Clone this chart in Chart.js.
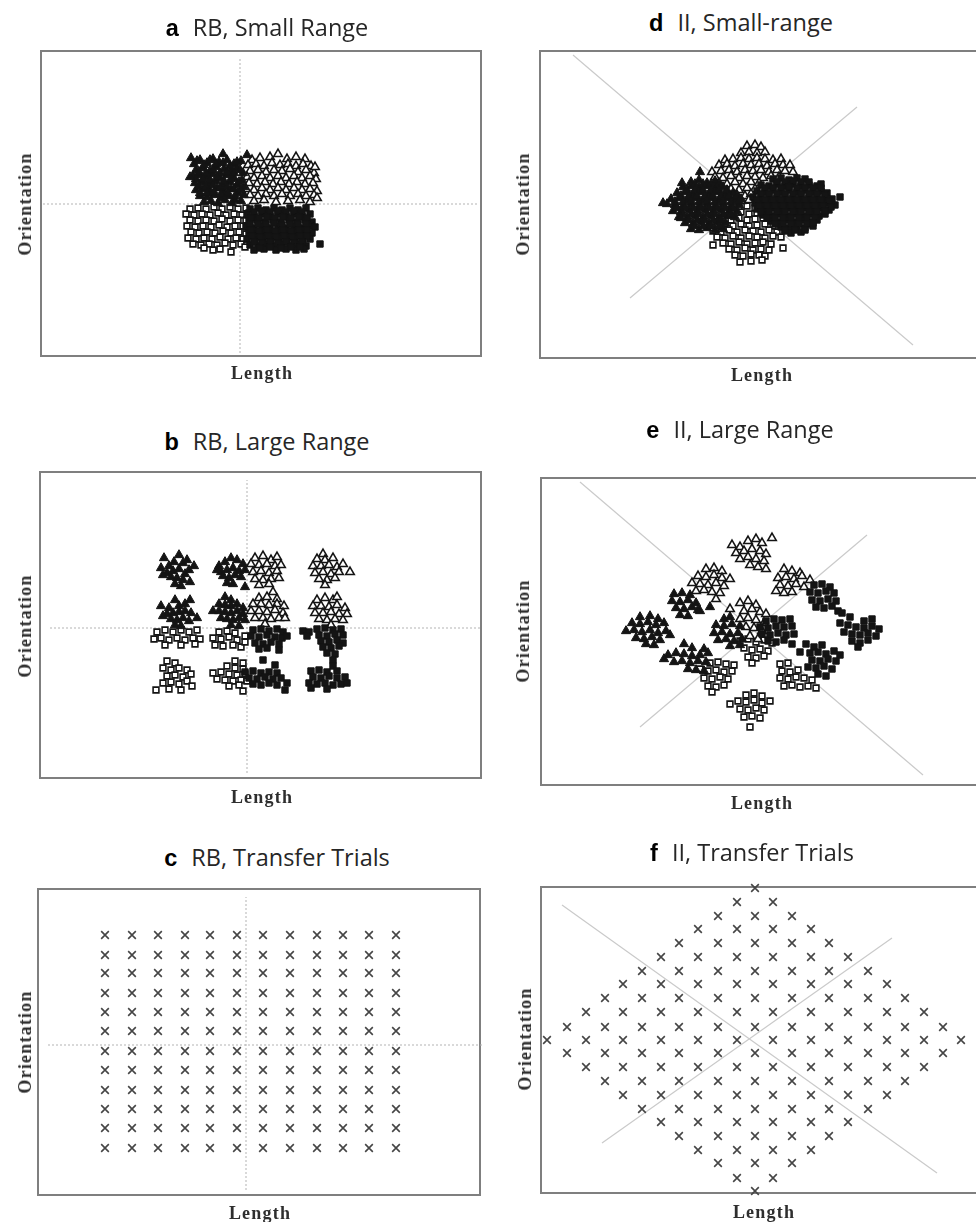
<!DOCTYPE html>
<html>
<head>
<meta charset="utf-8">
<script src="https://cdn.jsdelivr.net/npm/chart.js@4.4.1/dist/chart.umd.min.js"></script>
<style>
  html, body { margin: 0; padding: 0; background: #fff; }
  #page { position: relative; width: 976px; height: 1222px; overflow: hidden; background: #fff; }
  #page canvas { position: absolute; }
  .ttl { position: absolute; white-space: nowrap; transform: translate(-50%, -50%);
         font-family: "Open Sans", sans-serif; font-size: 23.5px; line-height: 1; color: #262626; }
  .ttl b { font-family: "Liberation Sans", Arial, sans-serif; font-weight: bold; color: #000; margin-right: 14px; }
  .ax { position: absolute; white-space: nowrap; transform: translate(-50%, -50%);
        font-family: "Liberation Serif", "Times New Roman", serif; font-weight: bold;
        font-size: 18px; line-height: 1; letter-spacing: 1.2px; color: #2e2e2e; }
  .ax.v { transform: translate(-50%, -50%) rotate(-90deg); }
</style>
</head>
<body>
<div id="page"></div>
<script>
// ---- Stimulus values (Length, Orientation), centred on the category boundary ----

// a: RB, small range
const rbSmallFilledTri = [
  [-46,40],[-40,44],[-33,41],[-27,45],[-21,42],[-13,44],[-6,40],[1,43],
  [-44,34],[-37,36],[-30,33],[-24,37],[-16,35],[-9,33],[-3,36],[3,31],
  [-47,28],[-41,29],[-34,27],[-27,30],[-20,26],[-13,29],[-6,26],[2,24],
  [-45,21],[-38,22],[-31,20],[-24,23],[-17,19],[-10,22],[-3,19],[4,17],
  [-44,14],[-37,15],[-30,13],[-23,16],[-16,12],[-9,15],[-2,11],[4,9],
  [-40,8],[-33,7],[-26,9],[-19,6],[-12,8],[-5,4],[1,3],[-36,2],[-22,1],[-8,1],
  [-43,43],[-36,39],[-30,44],[-24,40],[-17,41],[-10,38],[-3,42],
  [-41,32],[-34,31],[-27,34],[-20,31],[-13,32],[-6,31],[0,34],
  [-44,25],[-37,25],[-30,24],[-23,27],[-16,23],[-9,25],[-1,22],
  [-41,18],[-34,17],[-27,19],[-20,16],[-13,17],[-6,15],[1,14],
  [-40,11],[-33,11],[-26,12],[-19,10],[-12,11],[-5,8],[-29,3],[-15,4],
  [-49,46],[-17,50],[7,49],[-50,27]
];
const rbSmallOpenTri = [
  [12,44],[20,46],[30,47],[38,50],[47,45],[56,47],[65,45],
  [8,39],[16,40],[24,38],[32,41],[40,39],[48,40],[56,38],[63,40],[71,38],
  [10,33],[18,34],[26,32],[34,34],[42,33],[50,35],[58,32],[66,34],[74,31],
  [7,27],[14,26],[22,28],[30,26],[38,28],[46,26],[54,28],[62,26],[70,28],[76,25],
  [9,21],[17,20],[25,22],[33,20],[41,22],[49,20],[57,22],[65,20],[73,21],
  [6,15],[14,14],[22,16],[30,14],[38,16],[46,14],[54,16],[62,14],[70,15],[77,13],
  [10,9],[18,8],[26,10],[34,8],[42,10],[50,8],[58,10],[66,8],[74,9],
  [14,3],[24,4],[36,2],[48,3],[60,4],[70,2],[77,6],[75,37]
];
const rbSmallOpenSq = [
  [-50,-5],[-42,-4],[-34,-5],[-26,-3],[-18,-5],[-10,-3],[-2,-5],[6,-4],
  [-54,-10],[-46,-11],[-38,-10],[-30,-11],[-22,-9],[-14,-11],[-6,-10],[2,-11],[9,-9],
  [-50,-16],[-42,-17],[-34,-16],[-26,-17],[-18,-15],[-10,-17],[-2,-16],[6,-16],
  [-53,-22],[-45,-23],[-37,-22],[-29,-23],[-21,-21],[-13,-23],[-5,-22],[3,-22],
  [-49,-28],[-41,-29],[-33,-28],[-25,-29],[-17,-27],[-9,-29],[-1,-28],[6,-30],
  [-52,-34],[-44,-35],[-36,-34],[-28,-35],[-20,-33],[-12,-35],[-4,-34],[3,-35],
  [-47,-40],[-39,-41],[-31,-40],[-23,-41],[-15,-39],[-7,-41],[1,-40],
  [-36,-44],[-20,-45],[-9,-48],[5,-43],[-27,-46]
];
const rbSmallFilledSq = [
  [10,-5],[18,-4],[26,-6],[34,-4],[42,-6],[50,-4],[58,-6],[66,-4],
  [7,-11],[14,-12],[22,-10],[30,-12],[38,-10],[46,-12],[54,-10],[62,-12],[70,-10],
  [9,-17],[17,-16],[25,-18],[33,-16],[41,-18],[49,-16],[57,-18],[65,-16],[72,-18],
  [6,-23],[14,-24],[22,-22],[30,-24],[38,-22],[46,-24],[54,-22],[62,-24],[70,-22],[75,-23],
  [9,-29],[17,-30],[25,-28],[33,-30],[41,-28],[49,-30],[57,-28],[65,-30],[72,-29],
  [7,-35],[15,-36],[23,-34],[31,-36],[39,-34],[47,-36],[55,-34],[63,-36],[70,-35],
  [10,-41],[18,-42],[26,-40],[34,-42],[42,-40],[50,-42],[58,-40],[66,-42],[80,-40],
  [14,-46],[24,-45],[36,-46],[46,-45],[56,-46],[64,-45],
  [14,-8],[22,-7],[30,-8],[38,-7],[46,-8],[54,-7],[62,-8],
  [11,-14],[19,-14],[27,-13],[35,-14],[43,-13],[51,-14],[59,-13],[67,-14],
  [10,-20],[18,-20],[26,-20],[34,-19],[42,-21],[50,-20],[58,-20],[66,-20],
  [11,-26],[19,-27],[27,-26],[35,-27],[43,-26],[51,-27],[59,-26],[67,-26],
  [12,-32],[20,-33],[28,-32],[36,-33],[44,-32],[52,-33],[60,-32],[67,-32],
  [14,-38],[22,-39],[30,-38],[38,-39],[46,-38],[54,-39],[62,-38],
  [20,-44],[30,-43],[41,-44],[51,-43],[60,-43]
];

// b: RB, large range
const rbLargeFilledTri = [
  [-83,70],[-68,73],[-53,62],[-86,60],[-78,62],[-73,66],[-64,65],[-58,58],[-80,55],[-74,57],
  [-68,59],[-62,54],[-76,51],[-70,50],[-64,48],[-57,46],[-72,44],[-66,42],[-84,53],[-60,68],
  [-28,62],[-22,66],[-16,70],[-10,68],[-4,64],[-26,56],[-20,58],[-14,60],[-8,57],[-2,58],
  [-24,52],[-18,50],[-12,53],[-6,51],[-20,45],[-14,44],[-2,41],[-30,58],
  [-86,22],[-78,20],[-72,28],[-68,22],[-62,24],[-57,28],[-80,14],[-74,15],[-68,16],[-62,17],
  [-56,15],[-50,10],[-76,9],[-70,8],[-64,10],[-58,7],[-72,3],[-66,2],[-84,12],
  [-22,31],[-16,28],[-28,24],[-22,23],[-16,22],[-10,24],[-4,20],[-34,17],[-28,17],[-22,16],
  [-16,15],[-10,17],[-4,14],[-26,10],[-20,9],[-14,8],[-8,10],[-2,8],[-16,3],[-8,2]
];
const rbLargeOpenTri = [
  [8,70],[16,72],[24,68],[30,71],[4,64],[12,63],[20,64],[28,62],[34,63],[6,56],
  [14,57],[22,55],[30,57],[8,49],[16,48],[24,49],[32,50],[12,43],[22,44],
  [76,74],[70,69],[78,68],[86,70],[66,62],[74,62],[82,63],[90,61],[96,64],[68,55],
  [76,56],[84,54],[92,56],[72,49],[80,48],[88,50],[103,56],[78,43],
  [26,36],[12,30],[20,31],[30,29],[6,24],[14,24],[22,23],[30,24],[37,22],[4,17],
  [12,17],[20,16],[28,18],[36,15],[8,10],[16,10],[24,9],[32,10],[18,4],[38,10],
  [70,28],[78,30],[86,28],[90,31],[66,22],[74,22],[82,21],[90,23],[98,20],[68,15],
  [76,15],[84,16],[92,14],[100,14],[72,9],[80,8],[88,9],[96,8],[84,3]
];
const rbLargeOpenSq = [
  [-90,-4],[-82,-2],[-74,-4],[-66,-2],[-58,-4],[-50,-2],[-93,-11],[-86,-10],[-78,-12],[-70,-10],
  [-62,-12],[-54,-10],[-47,-11],[-82,-17],[-66,-17],[-52,-16],
  [-28,-4],[-20,-3],[-12,-5],[-34,-10],[-26,-11],[-18,-9],[-10,-12],[-2,-8],[-32,-17],[-24,-18],
  [-14,-17],[-6,-19],[-2,-14],
  [-80,-33],[-72,-35],[-84,-40],[-76,-42],[-68,-40],[-60,-42],[-80,-48],[-72,-47],[-64,-49],[-56,-46],
  [-84,-55],[-76,-54],[-68,-56],[-60,-53],[-55,-58],[-78,-61],[-66,-62],[-91,-62],
  [-12,-33],[-4,-35],[-20,-38],[-12,-40],[-4,-41],[-34,-45],[-26,-44],[-18,-46],[-10,-47],[-2,-46],
  [-30,-51],[-22,-52],[-14,-53],[-6,-52],[-18,-58],[-8,-57],[-4,-63],[0,-53]
];
const rbLargeFilledSq = [
  [6,-2],[14,-1],[22,-3],[30,-1],[36,-4],[4,-8],[12,-9],[20,-7],[28,-9],[35,-10],
  [40,-8],[8,-15],[16,-16],[24,-14],[32,-16],[12,-21],[20,-20],[32,-22],
  [56,-3],[62,-4],[60,-8],[70,-1],[78,0],[86,-2],[94,-1],[72,-7],[80,-8],[88,-6],
  [96,-7],[74,-13],[82,-14],[90,-12],[96,-15],[76,-19],[84,-20],[92,-18],[80,-25],[88,-26],
  [16,-32],[28,-37],[-2,-44],[6,-43],[14,-45],[22,-44],[30,-45],[2,-50],[10,-51],[18,-49],
  [26,-51],[34,-50],[40,-55],[6,-56],[14,-57],[22,-55],[30,-57],[38,-62],
  [86,-32],[86,-38],[64,-43],[72,-42],[80,-44],[90,-43],[66,-49],[74,-50],[82,-48],[90,-50],
  [98,-49],[62,-55],[70,-56],[78,-55],[86,-57],[94,-56],[100,-55],[64,-60],[80,-61]
];

// c: RB transfer grid (12 lengths x 12 orientations)
const transferRBLength = [-141, -114, -88, -61, -36, -9, 17, 44, 71, 97, 123, 150];
const transferRBOrient = [110, 90, 72, 52, 33, 14, -6, -25, -45, -64, -83, -103];

// d: II, small range
const iiSmallFilledTri = [
  [-52,19],[-44,21],[-36,18],[-28,20],
  [-60,14],[-52,15],[-44,13],[-36,15],[-28,13],[-20,14],
  [-66,8],[-58,9],[-50,7],[-42,9],[-34,7],[-26,9],[-18,7],[-10,8],
  [-72,2],[-64,3],[-56,1],[-48,3],[-40,1],[-32,3],[-24,1],[-16,3],[-8,1],[-2,2],
  [-76,-3],[-68,-4],[-60,-5],[-52,-3],[-44,-5],[-36,-3],[-28,-5],[-20,-3],[-12,-5],[-4,-4],
  [-70,-10],[-62,-11],[-54,-9],[-46,-11],[-38,-9],[-30,-11],[-22,-9],[-14,-11],[-6,-10],
  [-64,-16],[-56,-17],[-48,-15],[-40,-17],[-32,-15],[-24,-17],[-16,-15],[-8,-16],
  [-58,-22],[-50,-23],[-42,-21],[-34,-23],[-26,-21],[-18,-22],
  [-52,-28],[-44,-29],[-36,-27],[-28,-29],[-20,-28],
  [-48,17],[-40,17],[-32,17],[-24,17],
  [-56,11],[-48,11],[-40,11],[-32,11],[-24,11],[-16,11],
  [-62,5],[-54,5],[-46,5],[-38,5],[-30,5],[-22,5],[-14,5],[-6,5],
  [-68,-1],[-60,-1],[-52,0],[-44,-1],[-36,0],[-28,-1],[-20,0],[-12,-1],[-4,0],
  [-66,-7],[-58,-7],[-50,-7],[-42,-7],[-34,-7],[-26,-7],[-18,-7],[-10,-7],
  [-60,-13],[-52,-13],[-44,-13],[-36,-13],[-28,-13],[-20,-13],[-12,-13],
  [-54,-19],[-46,-19],[-38,-19],[-30,-19],[-22,-19],
  [-48,-25],[-40,-25],[-32,-25],[-24,-25],
  [-80,-2],[-61,18],[-43,29],[-62,-17]
];
const iiSmallOpenTri = [
  [4,55],[12,56],[18,54],
  [-2,48],[6,49],[14,48],[22,49],
  [-18,41],[-10,42],[-2,43],[6,42],[14,43],[22,42],[30,41],[38,42],
  [-24,36],[-16,37],[-8,35],[0,37],[8,36],[16,37],[24,35],[32,37],[40,36],[47,36],
  [-31,29],[-22,30],[-14,31],[-6,29],[2,31],[10,30],[18,31],[26,29],[34,31],[42,30],[50,29],
  [-28,24],[-20,23],[-12,25],[-4,23],[4,25],[12,24],[20,23],[28,25],[36,24],
  [-24,18],[-16,17],[-8,19],[0,17],[8,19],[16,18],
  [-12,12],[-4,11],[4,13],[12,12],
  [-6,6],[2,5],[8,7],
  [-2,0],[6,1]
];
const iiSmallOpenSq = [
  [-4,-6],[4,-5],[12,-7],
  [-10,-12],[-2,-11],[6,-13],[14,-12],
  [-20,-18],[-12,-19],[-4,-17],[4,-19],[12,-18],[20,-17],[28,-19],
  [-26,-24],[-18,-23],[-10,-25],[-2,-23],[6,-25],[14,-24],[22,-23],[30,-25],[38,-24],
  [-30,-30],[-22,-31],[-14,-29],[-6,-31],[2,-29],[10,-30],[18,-31],[26,-29],[34,-31],[42,-30],
  [-26,-36],[-18,-37],[-10,-35],[-2,-37],[6,-35],[14,-36],[22,-37],[30,-35],[38,-36],
  [-30,-44],[-20,-42],[-12,-43],[-4,-41],[4,-43],[12,-42],[20,-41],[28,-43],[40,-47],
  [-14,-48],[-6,-49],[2,-47],[10,-49],[18,-48],[26,-49],
  [-8,-54],[0,-55],[8,-53],[16,-54],[22,-55],
  [-3,-61],[8,-60],[19,-59]
];
const iiSmallFilledSq = [
  [30,22],[38,23],[46,21],[54,23],[62,22],[78,17],
  [18,16],[26,15],[34,17],[42,15],[50,17],[58,15],[66,16],[74,15],
  [14,10],[22,9],[30,11],[38,9],[46,11],[54,9],[62,11],[70,9],[78,10],[84,8],
  [10,4],[18,3],[26,5],[34,3],[42,5],[50,3],[58,5],[66,3],[74,5],[82,3],[89,2],
  [12,-2],[20,-3],[28,-1],[36,-3],[44,-1],[52,-3],[60,-1],[68,-3],[76,-1],[84,-2],[92,-4],
  [14,-8],[22,-9],[30,-7],[38,-9],[46,-7],[54,-9],[62,-7],[70,-9],[78,-7],[86,-9],
  [20,-14],[28,-15],[36,-13],[44,-15],[52,-13],[60,-15],[68,-13],[76,-15],[82,-13],
  [28,-20],[36,-21],[44,-19],[52,-21],[60,-19],[68,-21],[74,-19],
  [38,-26],[46,-27],[54,-25],[62,-27],[70,-25],
  [48,-32],[58,-31],
  [34,19],[42,19],[50,20],[58,19],[66,19],
  [22,13],[30,13],[38,13],[46,14],[54,13],[62,13],[70,13],[78,13],
  [18,7],[26,7],[34,7],[42,7],[50,7],[58,7],[66,7],[74,7],[82,6],
  [14,1],[22,1],[30,1],[38,1],[46,1],[54,1],[62,1],[70,1],[78,1],[86,0],
  [16,-5],[24,-5],[32,-5],[40,-5],[48,-5],[56,-5],[64,-5],[72,-5],[80,-5],[88,-6],
  [18,-11],[26,-11],[34,-11],[42,-11],[50,-11],[58,-11],[66,-11],[74,-11],[82,-10],
  [24,-17],[32,-17],[40,-17],[48,-17],[56,-17],[64,-17],[72,-17],
  [32,-23],[40,-23],[48,-23],[56,-23],[64,-23],[70,-22],
  [42,-29],[52,-29],[62,-29],[97,4]
];

// e: II, large range
const iiLargeFilledTri = [
  [-80,37],[-72,38],[-64,36],[-82,30],[-74,29],[-66,31],[-58,28],[-78,23],[-70,22],[-62,24],
  [-54,20],[-74,16],[-66,15],[-56,21],[-44,24],
  [-114,14],[-104,15],[-96,12],[-122,8],[-114,7],[-106,9],[-98,6],[-90,8],[-128,0],[-120,1],
  [-112,-1],[-104,1],[-96,-2],[-88,0],[-118,-7],[-110,-8],[-102,-6],[-94,-9],[-108,-13],[-100,-14],[-84,-4],
  [-30,12],[-24,14],[-38,6],[-30,5],[-22,7],[-14,5],[-40,-2],[-32,-1],[-24,-3],[-16,-2],
  [-36,-9],[-28,-8],[-20,-10],[-12,-8],[-24,-15],[-14,-14],
  [-70,-13],[-62,-17],[-50,-18],[-86,-24],[-78,-22],[-70,-23],[-62,-25],[-54,-24],[-46,-22],
  [-80,-31],[-72,-30],[-64,-32],[-56,-30],[-48,-31],[-66,-38],[-58,-39],[-50,-40],[-90,-28]
];
const iiLargeOpenTri = [
  [-22,86],[-14,84],[-6,90],[2,92],[8,88],[18,93],[-18,78],[-10,80],[-2,82],[6,80],
  [12,77],[-14,72],[-6,74],[2,72],[10,70],[-4,66],[4,64],[12,62],
  [-48,62],[-40,63],[-32,60],[-56,55],[-48,54],[-40,56],[-32,53],[-24,52],[-62,48],[-54,47],
  [-46,46],[-38,48],[-30,45],[-58,40],[-50,41],[-42,39],[-34,38],[-38,32],
  [30,62],[38,60],[46,58],[24,53],[32,54],[40,52],[48,55],[56,51],[26,46],[34,45],
  [42,47],[50,44],[22,40],[30,38],[38,39],
  [-24,22],[-14,28],[-6,30],[2,26],[-10,20],[-2,22],[6,19],[12,17],[-14,12],[-6,13],
  [2,11],[10,8],[-8,4],[0,3],[8,0],[-4,-5],[4,-8]
];
const iiLargeOpenSq = [
  [-14,-10],[-6,-8],[2,-11],[10,-9],[18,-12],[-10,-17],[-2,-19],[6,-18],[14,-20],[-6,-26],
  [2,-27],[10,-25],[-2,-32],
  [-44,-32],[-36,-31],[-28,-33],[-20,-34],[-54,-38],[-46,-40],[-38,-39],[-30,-41],[-22,-40],
  [-50,-47],[-42,-48],[-34,-46],[-26,-48],[-46,-55],[-38,-56],[-30,-54],[-42,-61],
  [26,-33],[34,-32],[28,-40],[36,-41],[44,-39],[26,-47],[34,-48],[42,-46],[50,-47],[58,-49],
  [30,-55],[38,-54],[46,-56],[54,-55],[62,-57],
  [-8,-64],[0,-62],[8,-65],[-16,-70],[-8,-71],[0,-69],[8,-72],[16,-70],[-24,-73],[-14,-78],
  [-6,-79],[2,-77],[10,-79],[-10,-86],[-2,-85],[6,-87],[-4,-96]
];
const iiLargeFilledSq = [
  [60,46],[68,47],[76,44],[56,39],[64,38],[72,40],[80,38],[58,31],[66,30],[74,32],
  [82,30],[62,24],[70,23],[78,25],[84,20],
  [12,10],[20,12],[28,11],[36,12],[6,4],[14,3],[22,5],[30,4],[38,5],[8,-3],
  [16,-4],[24,-2],[32,-4],[40,-3],[14,-10],[22,-11],[30,-9],[38,-13],
  [88,18],[96,14],[110,10],[118,12],[86,8],[94,6],[102,4],[110,3],[118,5],[125,2],
  [90,-1],[98,-3],[106,-4],[114,-2],[122,-5],[98,-10],[106,-12],[114,-9],[104,-16],
  [52,-13],[60,-16],[68,-14],[46,-21],[56,-22],[64,-21],[72,-23],[80,-20],[58,-29],[66,-30],
  [74,-28],[82,-30],[54,-36],[62,-37],[70,-35],[78,-38],[64,-43],[72,-45],[86,-24]
];

// f: II transfer grid, one row of lengths per orientation
const transferIIRows = [
  [152, [0]],
  [138, [-18, 18]],
  [124, [-37, 0, 37]],
  [111, [-57, -18, 18, 56]],
  [97, [-76, -37, 0, 37, 74]],
  [83, [-94, -57, -18, 18, 56, 93]],
  [69, [-113, -76, -37, 0, 37, 74, 113]],
  [56, [-132, -94, -57, -18, 18, 56, 93, 132]],
  [42, [-150, -113, -76, -37, 0, 37, 74, 113, 150]],
  [28, [-169, -132, -94, -57, -18, 18, 56, 93, 132, 169]],
  [13, [-188, -150, -113, -76, -37, 0, 37, 74, 113, 150, 188]],
  [0, [-208, -169, -132, -94, -57, -18, 18, 56, 93, 132, 169, 206]],
  [-13, [-188, -150, -113, -76, -37, 0, 37, 74, 113, 150, 188]],
  [-27, [-169, -132, -94, -57, -18, 18, 56, 93, 132, 169]],
  [-41, [-150, -113, -76, -37, 0, 37, 74, 113, 150]],
  [-55, [-132, -94, -57, -18, 18, 56, 93, 132]],
  [-69, [-113, -76, -37, 0, 37, 74, 113]],
  [-82, [-94, -57, -18, 18, 56, 93]],
  [-96, [-76, -37, 0, 37, 74]],
  [-110, [-57, -18, 18, 56]],
  [-123, [-37, 0, 37]],
  [-138, [-18, 18]],
  [-151, [0]]
];

// Category boundaries (segments in stimulus units)
const rbSmallBounds = [[[0, -149], [0, 147]], [[-197, 0], [237, 0]]];
const rbLargeBounds = [[[0, -145], [0, 148]], [[-197, 0], [233, 0]]];
const rbTransferBounds = [[[0, -145], [0, 148]], [[-198, 0], [236, 0]]];
const iiSmallBounds = [[[-170, 146], [170, -144]], [[-113, -97], [114, 94]]];
const iiLargeBounds = [[[-174, 149], [169, -144]], [[-114, -96], [113, 96]]];
const iiTransferBounds = [[[-193, 135], [182, -133]], [[-153, -103], [137, 102]]];

// ---- Drawing ----
const pts = arr => arr.map(([x, y]) => ({ x, y }));

const transferRB = [];
transferRBOrient.forEach(y => transferRBLength.forEach(x => transferRB.push({ x, y })));
const transferII = [];
transferIIRows.forEach(([y, xs]) => xs.forEach(x => transferII.push({ x, y })));

const INK = '#141414';
const MARK = {
  filledTri: { pointStyle: 'triangle', pointRadius: 5.3, pointBackgroundColor: INK, pointBorderColor: INK, pointBorderWidth: 1 },
  openTri:   { pointStyle: 'triangle', pointRadius: 4.9, pointBackgroundColor: '#fff', pointBorderColor: INK, pointBorderWidth: 1.6 },
  openSq:    { pointStyle: 'rect', pointRadius: 4.1, pointBackgroundColor: '#fff', pointBorderColor: INK, pointBorderWidth: 1.6 },
  filledSq:  { pointStyle: 'rect', pointRadius: 4.5, pointBackgroundColor: INK, pointBorderColor: INK, pointBorderWidth: 1 },
  cross:     { pointStyle: 'crossRot', pointRadius: 5.4, pointBackgroundColor: 'rgba(0,0,0,0)', pointBorderColor: '#454545', pointBorderWidth: 1.6 }
};

function boundSets(segs, dashed) {
  return segs.map(([p, q]) => ({
    data: [{ x: p[0], y: p[1] }, { x: q[0], y: q[1] }],
    showLine: true, pointRadius: 0,
    borderColor: dashed ? '#b4b4b4' : '#cacaca',
    borderWidth: dashed ? 1 : 1.2,
    borderDash: dashed ? [2, 2] : [],
    clip: false
  }));
}

function categorySets(ft, ot, os, fs) {
  // first dataset is drawn on top
  return [
    { data: pts(ft), ...MARK.filledTri },
    { data: pts(fs), ...MARK.filledSq },
    { data: pts(ot), ...MARK.openTri },
    { data: pts(os), ...MARK.openSq }
  ];
}

const panels = [
  { letter: 'a', title: 'RB, Small Range', box: [41, 51, 481, 356], x: [-199, 241], y: [-152, 153],
    titleAt: [267, 28], lenAt: [262, 373], oriAt: [25, 204],
    sets: [...categorySets(rbSmallFilledTri, rbSmallOpenTri, rbSmallOpenSq, rbSmallFilledSq), ...boundSets(rbSmallBounds, true)] },
  { letter: 'b', title: 'RB, Large Range', box: [40, 472, 481, 778], x: [-207, 234], y: [-150, 156],
    titleAt: [267, 442], lenAt: [262, 797], oriAt: [25, 626],
    sets: [...categorySets(rbLargeFilledTri, rbLargeOpenTri, rbLargeOpenSq, rbLargeFilledSq), ...boundSets(rbLargeBounds, true)] },
  { letter: 'c', title: 'RB, Transfer Trials', box: [38, 889, 480, 1195], x: [-208, 234], y: [-150, 156],
    titleAt: [277, 858], lenAt: [260, 1213], oriAt: [25, 1042],
    sets: [{ data: transferRB, ...MARK.cross }, ...boundSets(rbTransferBounds, true)] },
  { letter: 'd', title: 'II, Small-range', box: [540, 51, 981, 358], x: [-203, 238], y: [-157, 150],
    titleAt: [741, 23], lenAt: [762, 375], oriAt: [523, 204],
    sets: [...categorySets(iiSmallFilledTri, iiSmallOpenTri, iiSmallOpenSq, iiSmallFilledSq), ...boundSets(iiSmallBounds, false)] },
  { letter: 'e', title: 'II, Large Range', box: [541, 478, 982, 785], x: [-213, 228], y: [-154, 153],
    titleAt: [740, 430], lenAt: [762, 803], oriAt: [523, 631],
    sets: [...categorySets(iiLargeFilledTri, iiLargeOpenTri, iiLargeOpenSq, iiLargeFilledSq), ...boundSets(iiLargeBounds, false)] },
  { letter: 'f', title: 'II, Transfer Trials', box: [541, 887, 982, 1193], x: [-214, 227], y: [-153, 153],
    titleAt: [752, 853], lenAt: [764, 1212], oriAt: [525, 1039],
    sets: [{ data: transferII, ...MARK.cross, clip: false }, ...boundSets(iiTransferBounds, false)] }
];

const framePlugin = {
  id: 'frame',
  beforeDatasetsDraw(chart) {
    const { ctx, chartArea: a } = chart;
    ctx.save();
    ctx.strokeStyle = '#7f7f7f';
    ctx.lineWidth = 2;
    ctx.strokeRect(a.left, a.top, a.right - a.left, a.bottom - a.top);
    ctx.restore();
  }
};

const page = document.getElementById('page');
const PAD = 12;

function addText(cls, html, at) {
  const el = document.createElement('div');
  el.className = cls;
  el.innerHTML = html;
  el.style.left = at[0] + 'px';
  el.style.top = at[1] + 'px';
  page.appendChild(el);
}

panels.forEach(p => {
  const [L, T, R, B] = p.box;
  const cv = document.createElement('canvas');
  const w = R - L + 2 * PAD, h = B - T + 2 * PAD;
  cv.width = w; cv.height = h;
  cv.style.width = w + 'px'; cv.style.height = h + 'px';
  cv.style.left = (L - PAD) + 'px'; cv.style.top = (T - PAD) + 'px';
  page.appendChild(cv);

  new Chart(cv, {
    type: 'scatter',
    data: { datasets: p.sets },
    options: {
      responsive: false,
      animation: false,
      events: [],
      devicePixelRatio: 1,
      layout: { padding: PAD },
      plugins: { legend: { display: false }, tooltip: { enabled: false }, title: { display: false } },
      scales: {
        x: { type: 'linear', display: false, min: p.x[0], max: p.x[1] },
        y: { type: 'linear', display: false, min: p.y[0], max: p.y[1] }
      }
    },
    plugins: [framePlugin]
  });

  addText('ttl', '<b>' + p.letter + '</b>' + p.title, p.titleAt);
  addText('ax', 'Length', p.lenAt);
  addText('ax v', 'Orientation', p.oriAt);
});
</script>
</body>
</html>
